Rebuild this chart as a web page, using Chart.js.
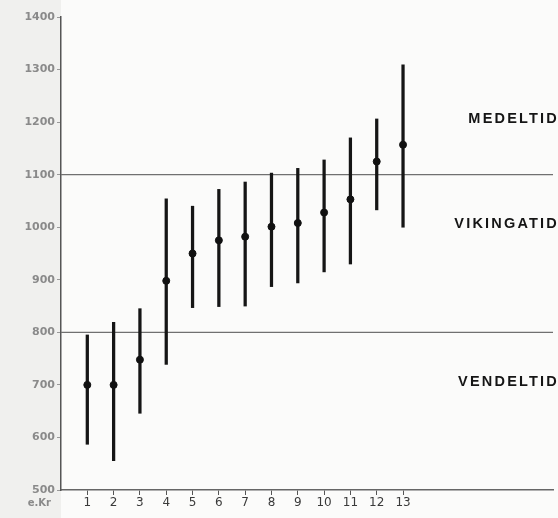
<!DOCTYPE html>
<html>
<head>
<meta charset="utf-8">
<script src="https://cdn.jsdelivr.net/npm/chart.js@4.4.1/dist/chart.umd.min.js"></script>
<style>
  html, body { margin: 0; padding: 0; background: #fbfbfa; }
  #wrap { width: 558px; height: 518px; position: relative; }
</style>
</head>
<body>
<div id="wrap"><canvas id="dateChart"></canvas></div>
<script>
// provnummer 1-13, mittvärde och spridning (e.Kr)
const sampleNo = [1, 2, 3, 4, 5, 6, 7, 8, 9, 10, 11, 12, 13];
const midYear  = [700, 700, 748, 898, 950, 975, 982, 1001, 1008, 1028, 1053, 1125, 1157];
const lowYear  = [587, 556, 646, 739, 847, 849, 850, 887, 894, 915, 930, 1033, 1000];
const highYear = [795, 819, 845, 1054, 1040, 1072, 1086, 1103, 1112, 1128, 1170, 1206, 1309];

// periodgränser och namn
const borderYears  = [1100, 800];
const periodNames  = ['MEDELTID', 'VIKINGATID', 'VENDELTID'];
const periodLevels = [1200, 1000, 700];

const yTicks = [500, 600, 700, 800, 900, 1000, 1100, 1200, 1300, 1400];
const X_MAX = 18.7;

const barData = sampleNo.map((n, i) => ({ x: n, y: [lowYear[i], highYear[i]] }));
const dotData = sampleNo.map((n, i) => ({ x: n, y: midYear[i] }));

const borderSets = borderYears.map(yr => ({
    type: 'line',
    data: [{ x: 0, y: yr }, { x: X_MAX, y: yr }],
    borderColor: '#707070',
    borderWidth: 1.3,
    pointRadius: 0,
    order: 3
}));

// bakgrund, periodnamn och "e.Kr"
const textPlugin = {
    id: 'textPlugin',
    beforeDraw(chart) {
        const c = chart.ctx;
        c.save();
        c.fillStyle = '#fbfbfa';
        c.fillRect(0, 0, chart.width, chart.height);
        c.fillStyle = '#f0f0ee';
        c.fillRect(0, 0, chart.chartArea.left, chart.height);
        c.restore();
    },
    afterDraw(chart) {
        const c = chart.ctx;
        const ys = chart.scales.y;
        c.save();
        c.fillStyle = '#151515';
        c.font = 'bold 14.5px "Liberation Sans", sans-serif';
        c.textAlign = 'right';
        c.textBaseline = 'middle';
        if ('letterSpacing' in c) c.letterSpacing = '2.2px';
        periodNames.forEach((name, i) => {
            c.fillText(name, 559, ys.getPixelForValue(periodLevels[i]) - 3);
        });
        c.letterSpacing = '0px';
        c.fillStyle = '#8a8a8a';
        c.font = 'bold 10px "DejaVu Sans", sans-serif';
        c.textAlign = 'right';
        c.fillText('e.Kr', 51, 503);
        c.restore();
    }
};

new Chart(document.getElementById('dateChart'), {
    type: 'bar',
    data: {
        datasets: [
            {
                type: 'scatter',
                data: dotData,
                backgroundColor: '#111',
                borderColor: '#111',
                pointRadius: 3.5,
                order: 1
            },
            {
                type: 'bar',
                data: barData,
                backgroundColor: '#151515',
                barThickness: 2.6,
                grouped: false,
                order: 2
            },
            ...borderSets
        ]
    },
    options: {
        responsive: true,
        maintainAspectRatio: false,
        animation: false,
        layout: { padding: { top: 17, right: 0, left: 0, bottom: 0 } },
        plugins: {
            legend: { display: false },
            tooltip: { enabled: false }
        },
        scales: {
            x: {
                type: 'linear',
                min: 0,
                max: X_MAX,
                offset: false,
                afterBuildTicks: axis => { axis.ticks = sampleNo.map(v => ({ value: v })); },
                afterFit: axis => { axis.height = 28; },
                grid: { offset: false, drawOnChartArea: false, drawTicks: true, tickLength: 5, color: '#555' },
                border: { display: true, color: '#666', width: 1.5 },
                ticks: {
                    color: '#3a3a3a',
                    font: { family: 'DejaVu Sans', size: 12 },
                    padding: 1,
                    maxRotation: 0,
                    autoSkip: false,
                    callback: v => String(v)
                }
            },
            y: {
                min: 500,
                max: 1400,
                afterBuildTicks: axis => { axis.ticks = yTicks.map(v => ({ value: v })); },
                afterFit: axis => { axis.width = 61; },
                grid: { drawOnChartArea: false, drawTicks: true, tickLength: 4, color: '#999' },
                border: { display: true, color: '#555', width: 1.5 },
                ticks: {
                    color: '#8a8a8a',
                    font: { family: 'DejaVu Sans', size: 11, weight: 'bold' },
                    padding: 2,
                    callback: v => String(v)
                }
            }
        }
    },
    plugins: [textPlugin]
});
</script>
</body>
</html>
